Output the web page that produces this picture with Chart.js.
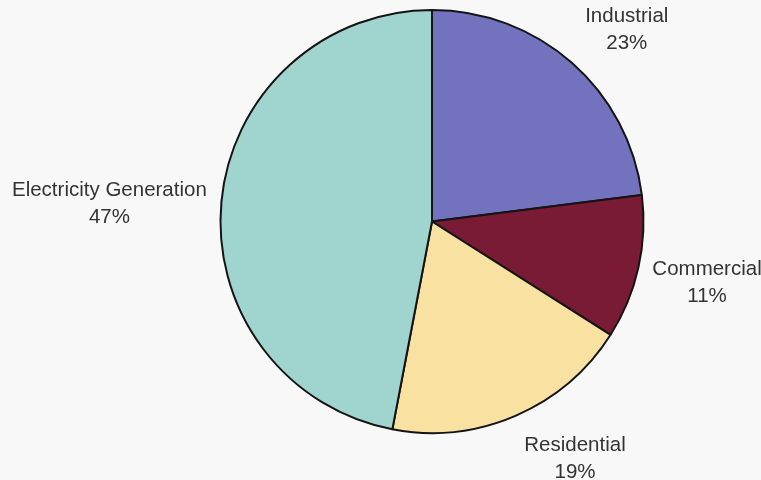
<!DOCTYPE html>
<html>
<head>
<meta charset="utf-8">
<script src="https://cdn.jsdelivr.net/npm/chart.js@4/dist/chart.umd.min.js"></script>
<style>
  html, body { margin: 0; padding: 0; background: #f8f8f8; }
  #wrap { width: 761px; height: 480px; position: relative; }
</style>
</head>
<body>
<div id="wrap"><canvas id="pie"></canvas></div>
<script>
const sectors = ['Industrial', 'Commercial', 'Residential', 'Electricity Generation'];
const shares = [23, 11, 19, 47];
const sectorColors = ['#7272bf', '#7a1b35', '#f9e1a1', '#a0d4ce'];

// extra nudge for each label after it is pushed out from its slice
const labelNudge = [[18, 9], [3, 1], [38, -5], [-5, 12]];

const sliceLabels = {
  id: 'sliceLabels',
  afterDatasetsDraw(chart) {
    const ctx = chart.ctx;
    const meta = chart.getDatasetMeta(0);
    ctx.save();
    ctx.font = '20.5px "Liberation Sans", Arial, sans-serif';
    ctx.fillStyle = '#333333';
    ctx.textAlign = 'center';
    ctx.textBaseline = 'middle';
    const lineH = 27;
    meta.data.forEach((arc, i) => {
      const mid = (arc.startAngle + arc.endAngle) / 2;
      const dx = Math.cos(mid);
      const dy = Math.sin(mid);
      const ax = arc.x + dx * (arc.outerRadius + 8);
      const ay = arc.y + dy * (arc.outerRadius + 8);
      const w = ctx.measureText(sectors[i]).width;
      const h = lineH * 2;
      const push = (w / 2) * Math.abs(dx) + (h / 2) * Math.abs(dy);
      const cx = ax + dx * push + labelNudge[i][0];
      const cy = ay + dy * push + labelNudge[i][1];
      ctx.fillText(sectors[i], cx, cy - lineH / 2);
      ctx.fillText(shares[i] + '%', cx, cy + lineH / 2);
    });
    ctx.restore();
  }
};

new Chart(document.getElementById('pie'), {
  type: 'pie',
  data: {
    labels: sectors,
    datasets: [{
      data: shares,
      backgroundColor: sectorColors,
      borderColor: '#141414',
      borderWidth: 2
    }]
  },
  options: {
    responsive: true,
    maintainAspectRatio: false,
    animation: false,
    layout: { padding: { left: 219, right: 116, top: 9, bottom: 46 } },
    plugins: {
      legend: { display: false },
      tooltip: { enabled: false }
    }
  },
  plugins: [sliceLabels]
});
</script>
</body>
</html>
